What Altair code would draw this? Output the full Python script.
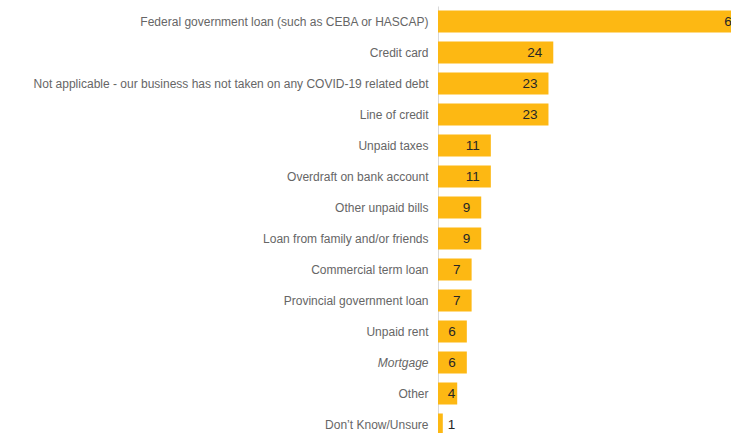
import altair as alt
import pandas as pd

categories = [
    "Federal government loan (such as CEBA or HASCAP)",
    "Credit card",
    "Not applicable  - our business has not taken on any COVID-19 related debt",
    "Line of credit",
    "Unpaid taxes",
    "Overdraft on bank account",
    "Other unpaid bills",
    "Loan from family and/or friends",
    "Commercial term loan",
    "Provincial government loan",
    "Unpaid rent",
    "Mortgage",
    "Other",
    "Don\u2019t Know/Unsure",
]
values = [65, 24, 23, 23, 11, 11, 9, 9, 7, 7, 6, 6, 4, 1]

df = pd.DataFrame({"category": categories, "value": values})

y = alt.Y(
    "category:N",
    sort=categories,
    title=None,
    scale=alt.Scale(range=[0, 434], paddingInner=0.29, paddingOuter=0.145),
    axis=alt.Axis(
        labelFont="Liberation Sans",
        labelFontSize=12,
        labelColor="#666666",
        labelPadding=10,
        ticks=False,
        domainColor="#d9d9d9",
        domainWidth=1,
        labelLimit=600,
        grid=False,
        labelFontStyle={"expr": "datum.value == 'Mortgage' ? 'italic' : 'normal'"},
    ),
)
x = alt.X("value:Q", scale=alt.Scale(domain=[0, 61], nice=False, zero=True), axis=None)

bars = alt.Chart(df).mark_bar(color="#FDB813", clip=True).encode(x=x, y=y)

inside = (
    alt.Chart(df)
    .transform_filter("datum.value >= 5")
    .mark_text(align="right", dx=-11, font="Liberation Sans", fontSize=13.5,
               color="#262626", clip=True)
    .encode(x=x, y=y, text="value:Q")
)
narrow = (
    alt.Chart(df)
    .transform_filter("datum.value >= 2 && datum.value < 5")
    .mark_text(align="right", dx=-2, font="Liberation Sans", fontSize=13.5,
               color="#262626", clip=True)
    .encode(x=x, y=y, text="value:Q")
)
outside = (
    alt.Chart(df)
    .transform_filter("datum.value < 2")
    .mark_text(align="left", dx=5, font="Liberation Sans", fontSize=13.5,
               color="#262626", clip=True)
    .encode(x=x, y=y, text="value:Q")
)

chart = (
    alt.layer(bars, inside, narrow, outside)
    .properties(
        width=293,
        height=427,
        autosize=alt.AutoSizeParams(type="none"),
        padding={"left": 438, "top": 6, "right": 0, "bottom": 0},
        background="white",
    )
    .configure_view(stroke=None)
)

chart.save("out.html", embed_options={"renderer": "svg", "actions": False})
